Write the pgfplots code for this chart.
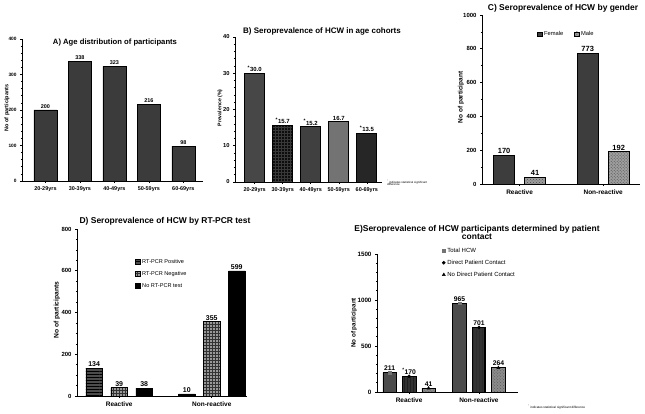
\documentclass[border=0pt]{standalone}
\usepackage{fontspec}
\setmainfont{Liberation Sans}
\usepackage{pgfplots}
\pgfplotsset{compat=1.18}
\usetikzlibrary{patterns}
\newcommand{\fs}[1]{\fontsize{#1}{#1}\selectfont}
\pgfplotsset{
  gp/.style={scale only axis, anchor=south west, axis lines*=left,
    axis line style={line width=0.8bp}, tick align=outside,
    major tick length=2bp, minor tick length=1.2bp,
    tick style={black, line width=0.6bp},
    /pgf/number format/assume math mode=true, /pgf/number format/1000 sep={},
    ymin=0, clip=false, legend cell align=left},
  boxleg/.style={legend image code/.code={\draw[##1,line width=0.4bp] (0bp,-2.2bp) rectangle (4.4bp,2.2bp);}},
  vlab/.style 2 args={nodes near coords, nodes near coords style={font=\bfseries\fs{#1}, black, inner sep=1bp, xshift=#2}},
}
\begin{document}
\begin{tikzpicture}
\useasboundingbox (0,0) rectangle (645bp,414bp);

% ---------- A ----------
\begin{axis}[gp, at={(22bp,233bp)}, width=181bp, height=142bp,
  xmin=-0.68, xmax=4.57, ymax=400, ytick={0,100,200,300,400}, minor y tick num=4,
  xtick={0,1,2,3,4}, xticklabels={20-29yrs,30-39yrs,40-49yrs,50-59yrs,60-69yrs},
  xticklabel style={font=\bfseries\fs{5.5}}, yticklabel style={font=\bfseries\fs{4.8}}]
\addplot[ybar, bar width=23bp, bar shift=0bp, fill=black!77, draw=black, line width=0.6bp, vlab={5.5}{0bp}]
  coordinates {(0,200)(1,338)(2,323)(3,216)(4,98)};
\end{axis}
\node[font=\bfseries\fs{7.7}] at (115bp,371bp) {A) Age distribution of participants};
\node[font=\bfseries\fs{5.5}, rotate=90] at (7bp,306bp) {No of participants};

% ---------- B ----------
\begin{axis}[gp, at={(235bp,232bp)}, width=147bp, height=145bp,
  xmin=-0.70, xmax=4.54, ymax=40, ytick={0,10,20,30,40}, minor y tick num=4,
  xtick={0,1,2,3,4}, xticklabels={20-29yrs,30-39yrs,40-49yrs,50-59yrs,60-69yrs},
  xticklabel style={font=\bfseries\fs{5.5}}, yticklabel style={font=\bfseries\fs{5.8}},
  point meta=explicit symbolic]
\addplot[ybar, bar width=20bp, bar shift=0bp, fill=black!72, draw=black, line width=0.8bp, vlab={6}{0bp}]
  coordinates {(0,30.0) [\textsuperscript{*}30.0]};
\addplot[ybar, bar width=20bp, bar shift=0bp, fill=black!95, draw=black, line width=0.8bp, vlab={6}{0bp},
  postaction={pattern=grid, pattern color=black!78}]
  coordinates {(1,15.7) [\textsuperscript{*}15.7]};
\addplot[ybar, bar width=20bp, bar shift=0bp, fill=black!75, draw=black, line width=0.8bp, vlab={6}{0bp}]
  coordinates {(2,15.2) [\textsuperscript{*}15.2]};
\addplot[ybar, bar width=20bp, bar shift=0bp, fill=black!55, draw=black, line width=0.8bp, vlab={6}{0bp}]
  coordinates {(3,16.7) [16.7]};
\addplot[ybar, bar width=20bp, bar shift=0bp, fill=black!85, draw=black, line width=0.8bp, vlab={6}{0bp}]
  coordinates {(4,13.5) [\textsuperscript{*}13.5]};
\end{axis}
\node[font=\bfseries\fs{8}] at (322bp,383bp) {B) Seroprevalence of HCW in age cohorts};
\node[font=\bfseries\fs{5.2}, rotate=90] at (220bp,306bp) {Prevalence (\%)};
\node[font=\fs{2.9}, anchor=north west, align=left, inner sep=0pt] at (387bp,234bp)
  {\textsuperscript{*} indicates statistical significant\\[-0.6bp]difference};

% ---------- C ----------
\begin{axis}[gp, at={(482bp,230bp)}, width=158bp, height=169bp,
  xmin=-0.45, xmax=1.44, ymax=1000, ytick={0,200,400,600,800,1000}, minor y tick num=1,
  xtick={0,1}, xticklabels={Reactive,Non-reactive},
  xticklabel style={font=\bfseries\fs{6.5}}, yticklabel style={font=\bfseries\fs{6}},
  legend columns=2,
  legend style={at={(0.33,0.888)}, anchor=west, draw=none, fill=none, font=\fs{5.8},
    /tikz/every even column/.append style={column sep=9bp}}]
\addplot[ybar, bar width=21bp, bar shift=-15.5bp, fill=black!76, draw=black, line width=0.8bp, vlab={7.5}{-15.5bp}, boxleg]
  coordinates {(0,170)(1,773)};
\addlegendentry{Female}
\addplot[ybar, bar width=21bp, bar shift=15.5bp, fill=black!38, draw=black, line width=0.8bp, vlab={7.5}{15.5bp}, boxleg,
  postaction={pattern=crosshatch dots, pattern color=black!70}]
  coordinates {(0,41)(1,192)};
\addlegendentry{Male}
\end{axis}
\node[font=\bfseries\fs{8.5}] at (563bp,406bp) {C) Seroprevalence of HCW by gender};
\node[font=\bfseries\fs{6.5}, rotate=90] at (461bp,316.5bp) {No of participant};

% ---------- D ----------
\begin{axis}[gp, at={(77bp,18bp)}, width=170bp, height=167bp,
  xmin=-0.455, xmax=1.38, ymax=800, ytick={0,200,400,600,800}, minor y tick num=3,
  xtick={0,1}, xticklabels={Reactive,Non-reactive},
  xticklabel style={font=\bfseries\fs{6.5}}, yticklabel style={font=\bfseries\fs{6}},
  legend style={at={(0.325,0.845)}, anchor=north west, draw=none, fill=none, font=\fs{5.6},
    row sep=2.5bp}]
\addplot[ybar, bar width=16.5bp, bar shift=-25bp, fill=black!70, draw=black, line width=0.8bp, vlab={7}{-25bp}, boxleg,
  postaction={pattern=horizontal lines, pattern color=black}]
  coordinates {(0,134)(1,10)};
\addlegendentry{RT-PCR Positive}
\addplot[ybar, bar width=16.5bp, bar shift=0bp, fill=black!40, draw=black, line width=0.8bp, vlab={7}{0bp}, boxleg,
  postaction={pattern=grid, pattern color=black!80}]
  coordinates {(0,39)(1,355)};
\addlegendentry{RT-PCR Negative}
\addplot[ybar, bar width=16.5bp, bar shift=25bp, fill=black, draw=black, line width=0.8bp, vlab={7}{25bp}, boxleg]
  coordinates {(0,38)(1,599)};
\addlegendentry{No RT-PCR test}
\end{axis}
\node[font=\bfseries\fs{8.5}] at (165bp,193bp) {D) Seroprevalence of HCW by RT-PCR test};
\node[font=\bfseries\fs{6.7}, rotate=90] at (57bp,104bp) {No of participants};

% ---------- E ----------
\begin{axis}[gp, at={(377bp,22bp)}, width=141bp, height=138bp,
  xmin=-0.46, xmax=1.56, ymax=1500, ytick={0,500,1000,1500}, minor y tick num=4,
  xtick={0,1}, xticklabels={Reactive,Non-reactive},
  xticklabel style={font=\bfseries\fs{6.5}}, yticklabel style={font=\bfseries\fs{6.3}},
  legend style={at={(0.44,1.075)}, anchor=north west, draw=none, fill=none, font=\fs{6},
    row sep=2.2bp}]
\addplot[ybar, bar width=13.5bp, bar shift=-19.5bp, fill=black!70, draw=black, line width=0.7bp,
  nodes near coords, nodes near coords style={font=\bfseries\fs{6.8}, black, inner sep=1.8bp, xshift=-19.5bp},
  point meta=explicit symbolic, forget plot]
  coordinates {(0,211) [211] (1,965) [965]};
\addplot[ybar, bar width=13.5bp, bar shift=0bp, fill=black!80, draw=black, line width=0.7bp,
  postaction={pattern=vertical lines, pattern color=black},
  nodes near coords, nodes near coords style={font=\bfseries\fs{6.8}, black, inner sep=1.8bp},
  point meta=explicit symbolic, forget plot]
  coordinates {(0,170) [\textsuperscript{*}170] (1,701) [701]};
\addplot[ybar, bar width=13.5bp, bar shift=19.5bp, fill=black!45, draw=black, line width=0.7bp,
  postaction={pattern=crosshatch dots, pattern color=black!65},
  nodes near coords, nodes near coords style={font=\bfseries\fs{6.8}, black, inner sep=1.8bp, xshift=19.5bp},
  point meta=explicit symbolic, forget plot]
  coordinates {(0,41) [41] (1,264) [264]};
\addplot[only marks, mark=square*, mark size=1.3bp, black!55, mark options={draw=black!55}]
  coordinates {(-0.279,211)(0.721,965)};
\addlegendentry{Total HCW}
\addplot[only marks, mark=*, mark size=1.6bp, black]
  coordinates {(0,170)(1,701)};
\addlegendentry{Direct Patient Contact}
\addplot[only marks, mark=triangle*, mark size=1.8bp, black]
  coordinates {(0.279,41)(1.279,264)};
\addlegendentry{No Direct Patient Contact}
\end{axis}
\node[font=\bfseries\fs{8.5}, align=center] at (477bp,182bp) {E)Seroprevalence of HCW participants determined by patient\\[-0.5bp]contact};
\node[font=\bfseries\fs{6.3}, rotate=90] at (354bp,91bp) {No of participant};
\node[font=\fs{3.1}, anchor=west, inner sep=0pt] at (528bp,7bp) {\textsuperscript{*} indicates statistical significant difference};
\end{tikzpicture}
\end{document}
